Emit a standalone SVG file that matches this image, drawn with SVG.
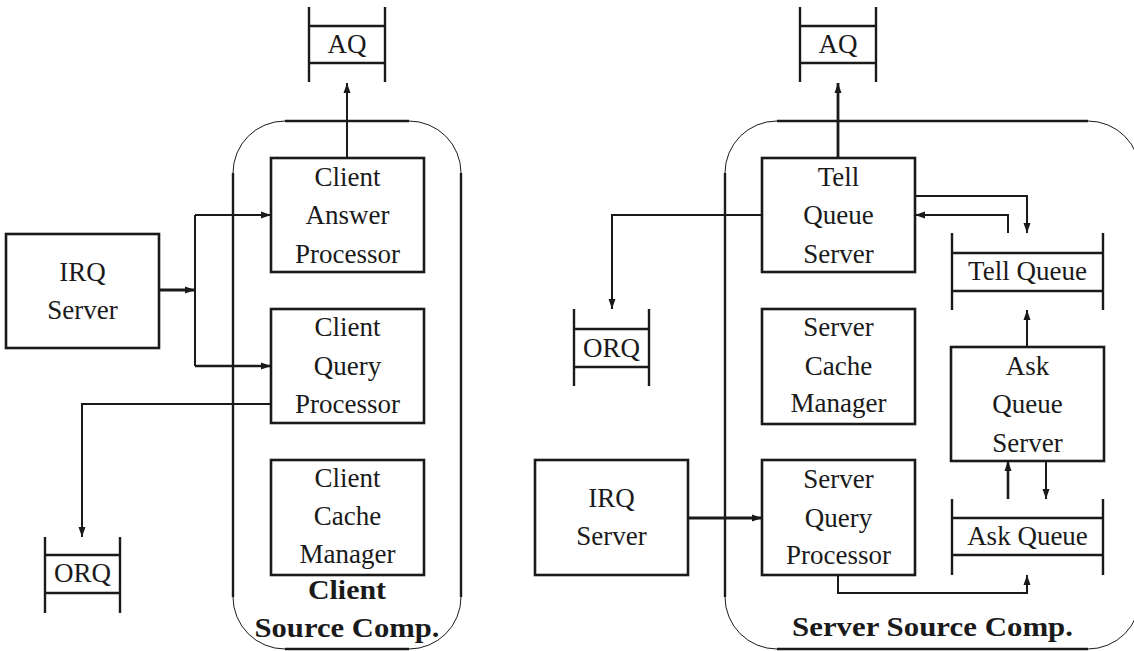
<svg xmlns="http://www.w3.org/2000/svg" width="1134" height="651" viewBox="0 0 1134 651">
<defs>
<marker id="ah" markerUnits="userSpaceOnUse" markerWidth="10" markerHeight="8" refX="10" refY="4" orient="auto">
<path d="M0,0.5 L10,4 L0,7.5 z" fill="#1a1a1a"/>
</marker>
</defs>
<style>
.box{fill:none;stroke:#1a1a1a;stroke-width:2.6}
.q{fill:none;stroke:#1a1a1a;stroke-width:2.4}
.cs{fill:none;stroke:#1a1a1a;stroke-width:2.4}
.ca{fill:none;stroke:#1a1a1a;stroke-width:1}
.c{fill:none;stroke:#1a1a1a;stroke-width:2;marker-end:url(#ah)}
.cn{fill:none;stroke:#1a1a1a;stroke-width:2}
.t{font-family:"Liberation Serif","Times New Roman",serif;font-size:27px;fill:#1a1a1a;text-anchor:middle}
.b{font-family:"Liberation Serif","Times New Roman",serif;font-size:27px;font-weight:bold;fill:#1a1a1a;text-anchor:middle}
</style>
<rect width="1134" height="651" fill="#ffffff"/>

<g id="client-container">
<path class="cs" d="M233,173 V597 M461,173 V597 M285,121 H409 M285,649 H409"/>
<path class="ca" d="M233,173 A52,52 0 0 1 285,121 M409,121 A52,52 0 0 1 461,173 M461,597 A52,52 0 0 1 409,649 M285,649 A52,52 0 0 1 233,597"/>
<text class="b" x="347" y="599" textLength="78" lengthAdjust="spacingAndGlyphs">Client</text>
<text class="b" x="347" y="637" textLength="185" lengthAdjust="spacingAndGlyphs">Source Comp.</text>
</g>

<g id="server-container">
<path class="cs" d="M725,173 V597 M1140,173 V597 M777,121 H1088 M777,649 H1088"/>
<path class="ca" d="M725,173 A52,52 0 0 1 777,121 M1088,121 A52,52 0 0 1 1140,173 M1140,597 A52,52 0 0 1 1088,649 M777,649 A52,52 0 0 1 725,597"/>
<text class="b" x="932.5" y="636" textLength="281" lengthAdjust="spacingAndGlyphs">Server Source Comp.</text>
</g>

<g id="aq-left">
<path class="q" d="M309,7 V82 M385,7 V82 M309,26 H385 M309,63 H385"/>
<text class="t" x="347" y="53">AQ</text>
</g>

<g id="aq-right">
<path class="q" d="M800,7 V82 M876,7 V82 M800,26 H876 M800,63 H876"/>
<text class="t" x="838" y="53">AQ</text>
</g>

<g id="irq-left">
<rect class="box" x="6" y="234" width="153" height="114"/>
<text class="t" x="82.5" y="281">IRQ</text>
<text class="t" x="82.5" y="319">Server</text>
</g>

<g id="client-answer-processor">
<rect class="box" x="271" y="158" width="153" height="114"/>
<text class="t" x="347.5" y="186">Client</text>
<text class="t" x="347.5" y="224">Answer</text>
<text class="t" x="347.5" y="263">Processor</text>
</g>

<g id="client-query-processor">
<rect class="box" x="271" y="309" width="153" height="114"/>
<text class="t" x="347.5" y="336">Client</text>
<text class="t" x="347.5" y="375">Query</text>
<text class="t" x="347.5" y="413">Processor</text>
</g>

<g id="client-cache-manager">
<rect class="box" x="271" y="460" width="153" height="115"/>
<text class="t" x="347.5" y="487">Client</text>
<text class="t" x="347.5" y="525">Cache</text>
<text class="t" x="347.5" y="563">Manager</text>
</g>

<g id="orq-left">
<path class="q" d="M45,537 V613 M120,537 V613 M45,555 H120 M45,593 H120"/>
<text class="t" x="82.5" y="582">ORQ</text>
</g>

<g id="tell-queue-server">
<rect class="box" x="762" y="158" width="153" height="114"/>
<text class="t" x="838.5" y="186">Tell</text>
<text class="t" x="838.5" y="224">Queue</text>
<text class="t" x="838.5" y="263">Server</text>
</g>

<g id="server-cache-manager">
<rect class="box" x="762" y="309" width="153" height="115"/>
<text class="t" x="838.5" y="336">Server</text>
<text class="t" x="838.5" y="375">Cache</text>
<text class="t" x="838.5" y="412">Manager</text>
</g>

<g id="server-query-processor">
<rect class="box" x="762" y="460" width="153" height="115"/>
<text class="t" x="838.5" y="488">Server</text>
<text class="t" x="838.5" y="527">Query</text>
<text class="t" x="838.5" y="564">Processor</text>
</g>

<g id="ask-queue-server">
<rect class="box" x="951" y="347" width="153" height="114"/>
<text class="t" x="1027.5" y="375">Ask</text>
<text class="t" x="1027.5" y="413">Queue</text>
<text class="t" x="1027.5" y="452">Server</text>
</g>

<g id="tell-queue">
<path class="q" d="M952,233 V310 M1103,233 V310 M952,253 H1103 M952,291 H1103"/>
<text class="t" x="1027.5" y="280">Tell Queue</text>
</g>

<g id="ask-queue">
<path class="q" d="M952,499 V575 M1103,499 V575 M952,518 H1103 M952,555 H1103"/>
<text class="t" x="1027.5" y="545">Ask Queue</text>
</g>

<g id="orq-right">
<path class="q" d="M574,309 V386 M649,309 V386 M574,329 H649 M574,367 H649"/>
<text class="t" x="611.5" y="357">ORQ</text>
</g>

<g id="irq-right">
<rect class="box" x="535" y="460" width="153" height="115"/>
<text class="t" x="611.5" y="507">IRQ</text>
<text class="t" x="611.5" y="545">Server</text>
</g>

<g id="connectors">
<path class="c" d="M347,158 V83"/>
<path class="c" style="stroke-width:2.8" d="M159,290 H195"/>
<path class="cn" d="M195,215 V366"/>
<path class="c" d="M195,215 H271"/>
<path class="c" style="stroke-width:2.6" d="M195,366 H271"/>
<path class="c" d="M271,404 H82 V537"/>
<path class="c" style="stroke-width:2.8" d="M838,158 V83"/>
<path class="c" d="M762,215 H612 V309"/>
<path class="c" d="M915,196 H1027 V233"/>
<path class="c" d="M1008,233 V215 H915"/>
<path class="c" d="M1027,347 V310"/>
<path class="c" style="stroke-width:2.6" d="M1008,499 V461"/>
<path class="c" d="M1046,461 V499"/>
<path class="c" style="stroke-width:2.8" d="M688,518 H762"/>
<path class="c" d="M838,575 V593 H1027 V575"/>
</g>
</svg>
